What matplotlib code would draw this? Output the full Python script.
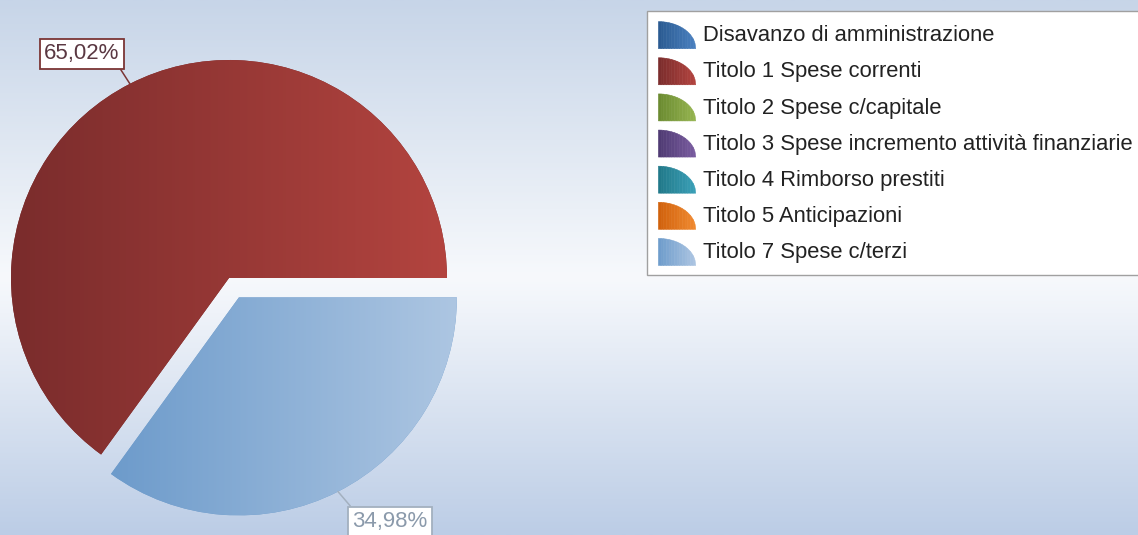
import matplotlib
matplotlib.use('Agg')
import matplotlib.pyplot as plt
import numpy as np
from matplotlib.colors import LinearSegmentedColormap, to_rgb
from matplotlib.legend_handler import HandlerBase
from matplotlib.patches import Polygon

plt.rcParams['font.family'] = ['Liberation Sans', 'DejaVu Sans']

# dati
categories = ['Disavanzo di amministrazione',
              'Titolo 1 Spese correnti',
              'Titolo 2 Spese c/capitale',
              'Titolo 3 Spese incremento attività finanziarie',
              'Titolo 4 Rimborso prestiti',
              'Titolo 5 Anticipazioni',
              'Titolo 7 Spese c/terzi']
shares = [0.0, 65.02, 0.0, 0.0, 0.0, 0.0, 34.98]
exploded = [False, False, False, False, False, False, True]

# colori (sinistra scuro -> destra chiaro)
colors_dark = ['#2a5a90', '#7a2c2c', '#6a8a30', '#4e3a72', '#207888', '#d0600c', '#6d9bcb']
colors_light = ['#4a80c0', '#b3443f', '#96b450', '#7a5ca0', '#3ba0b8', '#f08a30', '#adc6e2']
label_text = ['#6a8ab0', '#5a3842', '#6a8a30', '#4e3a72', '#207888', '#d0600c', '#8b9aab']
label_edge = ['#4a80c0', '#7b3535', '#6a8a30', '#4e3a72', '#207888', '#d0600c', '#a3b0bf']

W, H = 1138, 535
R = 218
cx, cy = 229, H - 278

fig = plt.figure(figsize=(W / 100, H / 100), dpi=100)
ax = fig.add_axes([0, 0, 1, 1])

# sfondo sfumato
bg = LinearSegmentedColormap.from_list(
    'bg', [(0, '#c7d5e8'), (0.52, '#f7f9fc'), (1, '#bccde6')])
ax.imshow(np.linspace(0, 1, 256).reshape(-1, 1), cmap=bg, aspect='auto',
          extent=(0, W, 0, H), zorder=0, interpolation='bilinear')

idx = [i for i, v in enumerate(shares) if v > 0]
vals = [shares[i] for i in idx]
expl = [0.1 * R if exploded[i] else 0 for i in idx]
wedges, _ = ax.pie(vals, explode=expl, colors=[colors_dark[i] for i in idx],
                   startangle=0, counterclock=True, radius=R, center=(cx, cy),
                   wedgeprops=dict(linewidth=0), frame=True)

for w, i in zip(wedges, idx):
    w.set_zorder(2)
    ext = w.get_path().get_extents()
    cmap = LinearSegmentedColormap.from_list('g', [colors_dark[i], colors_light[i]])
    im = ax.imshow(np.linspace(0, 1, 256).reshape(1, -1), cmap=cmap, aspect='auto',
                   extent=(ext.x0, ext.x1, ext.y0, ext.y1), zorder=2,
                   interpolation='bilinear')
    im.set_clip_path(w)

    # etichetta percentuale
    tm = np.deg2rad((w.theta1 + w.theta2) / 2)
    wx, wy = w.center
    px, py = wx + R * np.cos(tm), wy + R * np.sin(tm)
    txt = f'{shares[i]:.2f}%'.replace('.', ',')
    if np.sin(tm) > 0:
        tpos, rel = (px - 48, py + 30), (0.97, 0.0)
    else:
        tpos, rel = (px + 52, py - 30), (0.03, 1.0)
    ax.annotate(txt, xy=(px, py), xytext=tpos, textcoords='data',
                ha='center', va='center', fontsize=16, color=label_text[i], zorder=5,
                bbox=dict(boxstyle='square,pad=0.2', fc='white', ec=label_edge[i], lw=1.3),
                arrowprops=dict(arrowstyle='-', color=label_edge[i], lw=1.1,
                                shrinkA=0, shrinkB=0, relpos=rel))


class Quarter:
    def __init__(self, c0, c1):
        self.c0, self.c1 = c0, c1


class QuarterHandler(HandlerBase):
    def create_artists(self, legend, h, xdescent, ydescent, width, height, fontsize, trans):
        hh = height + ydescent
        x0, y0 = -xdescent, -ydescent - 0.15 * fontsize
        n = 14
        a, b = np.array(to_rgb(h.c0)), np.array(to_rgb(h.c1))
        arts = []
        for k in range(n):
            xs = np.linspace(k / n, (k + 1) / n, 5)
            ys = np.sqrt(np.clip(1 - xs ** 2, 0, 1))
            pts = [(x0 + xs[0] * width, y0)] + \
                  [(x0 + u * width, y0 + v * hh) for u, v in zip(xs, ys)] + \
                  [(x0 + xs[-1] * width, y0)]
            c = a + (b - a) * (k + 0.5) / n
            p = Polygon(pts, closed=True, fc=c, ec=c, lw=0.4, transform=trans)
            arts.append(p)
        return arts


handles = [Quarter(colors_dark[i], colors_light[i]) for i in range(len(categories))]
leg = ax.legend(handles, categories, handler_map={Quarter: QuarterHandler()},
                loc='upper left', bbox_to_anchor=(647, H - 11),
                bbox_transform=ax.transData, borderaxespad=0,
                fontsize=15.8, handlelength=1.7, handleheight=1.23,
                handletextpad=0.32, labelspacing=0.56, borderpad=0.52,
                fancybox=False, framealpha=1, edgecolor='#a0a0a0',
                labelcolor='#222222')
leg.get_frame().set_linewidth(1.0)
leg.set_zorder(6)

ax.set_xlim(0, W)
ax.set_ylim(0, H)
ax.set_aspect('auto')
ax.axis('off')

fig.savefig('out.png', dpi=100)
